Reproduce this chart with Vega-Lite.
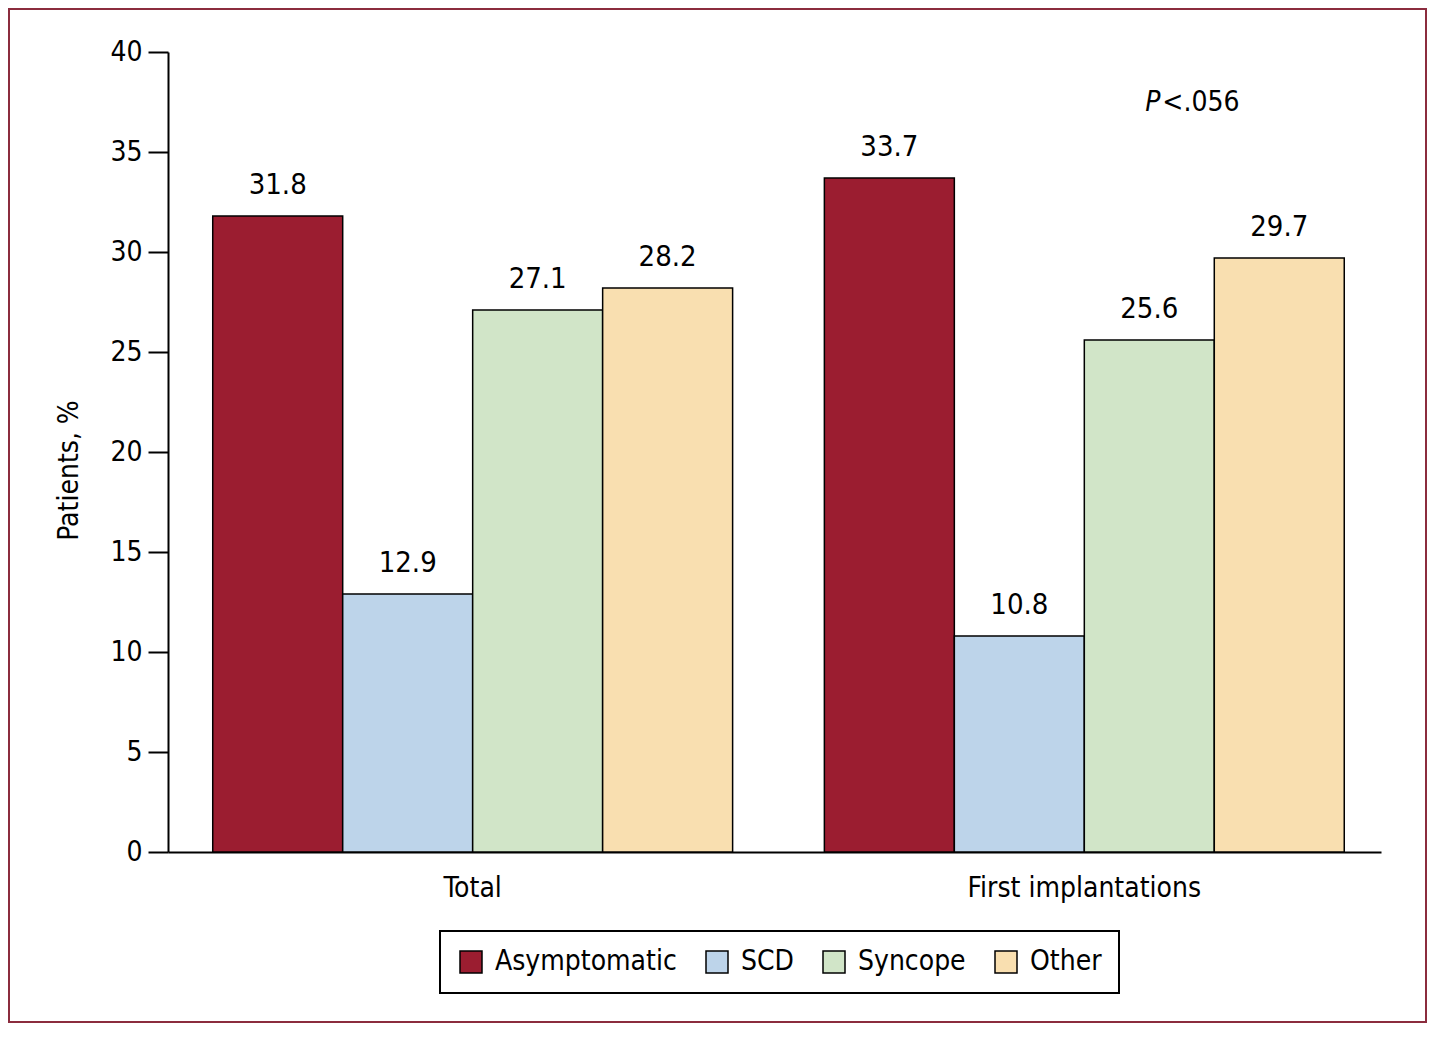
{
  "$schema": "https://vega.github.io/schema/vega-lite/v6.json",
  "width": 1417,
  "height": 1013,
  "autosize": {"type": "none"},
  "padding": {"left": 9, "top": 9, "right": 19, "bottom": 15},
  "background": "white",
  "config": {
    "view": {"stroke": "#8b2c3e", "strokeWidth": 2},
    "font": "'DejaVu Sans Condensed', Roboto, sans-serif",
    "text": {"font": "'DejaVu Sans Condensed', Roboto, sans-serif"}
  },
  "datasets": {
    "bars": [
      {"group": "Total", "cat": "Asymptomatic", "value": 31.8},
      {"group": "Total", "cat": "SCD", "value": 12.9},
      {"group": "Total", "cat": "Syncope", "value": 27.1},
      {"group": "Total", "cat": "Other", "value": 28.2},
      {"group": "First implantations", "cat": "Asymptomatic", "value": 33.7},
      {"group": "First implantations", "cat": "SCD", "value": 10.8},
      {"group": "First implantations", "cat": "Syncope", "value": 25.6},
      {"group": "First implantations", "cat": "Other", "value": 29.7}
    ],
    "pnote": [
      {"group": "First implantations", "cat": "Syncope", "value": 37.07, "p": "P", "rest": "<.056"}
    ]
  },
  "encoding": {
    "x": {
      "field": "group", "type": "nominal", "sort": ["Total", "First implantations"],
      "scale": {"range": [159, 1372], "paddingInner": 0.15, "paddingOuter": 0.0666, "align": 0.549},
      "axis": {
        "title": null, "orient": "bottom", "offset": -170, "labelAngle": 0,
        "ticks": false, "domainColor": "black", "domainWidth": 2,
        "labelFontSize": 28, "labelColor": "black", "labelPadding": 22, "labelLimit": 600
      }
    },
    "xOffset": {
      "field": "cat", "type": "nominal", "sort": ["Asymptomatic", "SCD", "Syncope", "Other"],
      "scale": {"paddingInner": 0, "paddingOuter": 0}
    },
    "y": {
      "field": "value", "type": "quantitative",
      "scale": {"domain": [0, 40], "range": [843, 43], "nice": false},
      "axis": {
        "title": "Patients, %", "orient": "left", "offset": -159,
        "values": [0, 5, 10, 15, 20, 25, 30, 35, 40],
        "grid": false, "tickSize": 20, "tickColor": "black", "tickWidth": 2,
        "domainColor": "black", "domainWidth": 2,
        "labelFontSize": 28, "labelColor": "black", "labelPadding": 6,
        "titleFontSize": 28, "titleFontWeight": "normal",
        "titleColor": "black", "titlePadding": 26, "titleY": 461
      }
    }
  },
  "layer": [
    {
      "data": {"name": "bars"},
      "mark": {"type": "bar", "stroke": "black", "strokeWidth": 1.5},
      "encoding": {
        "color": {
          "field": "cat", "type": "nominal", "sort": ["Asymptomatic", "SCD", "Syncope", "Other"],
          "scale": {"domain": ["Asymptomatic", "SCD", "Syncope", "Other"], "range": ["#9b1d30", "#bdd4ea", "#d1e5c8", "#f9dfb0"]},
          "legend": {
            "title": null, "orient": "none", "legendX": 431, "legendY": 922,
            "direction": "horizontal", "columns": 4,
            "strokeColor": "black", "padding": 17, "fillColor": "white",
            "symbolType": "square", "symbolSize": 484, "symbolStrokeColor": "black", "symbolStrokeWidth": 1.5,
            "symbolOpacity": 1,
            "labelFontSize": 28, "labelColor": "black", "labelOffset": 10,
            "columnPadding": 26, "labelLimit": 400,
            "encode": {"legend": {"update": {"strokeWidth": {"value": 2}}}}
          }
        }
      }
    },
    {
      "data": {"name": "bars"},
      "mark": {"type": "text", "baseline": "bottom", "dy": -16, "fontSize": 29, "color": "black"},
      "encoding": {"text": {"field": "value", "type": "quantitative", "format": ".1f"}}
    },
    {
      "data": {"name": "pnote"},
      "mark": {"type": "text", "align": "left", "baseline": "alphabetic", "dx": -4, "fontSize": 28, "fontStyle": "italic", "color": "black"},
      "encoding": {"text": {"field": "p"}}
    },
    {
      "data": {"name": "pnote"},
      "mark": {"type": "text", "align": "left", "baseline": "alphabetic", "dx": 13, "fontSize": 28, "color": "black"},
      "encoding": {"text": {"field": "rest"}}
    }
  ]
}
